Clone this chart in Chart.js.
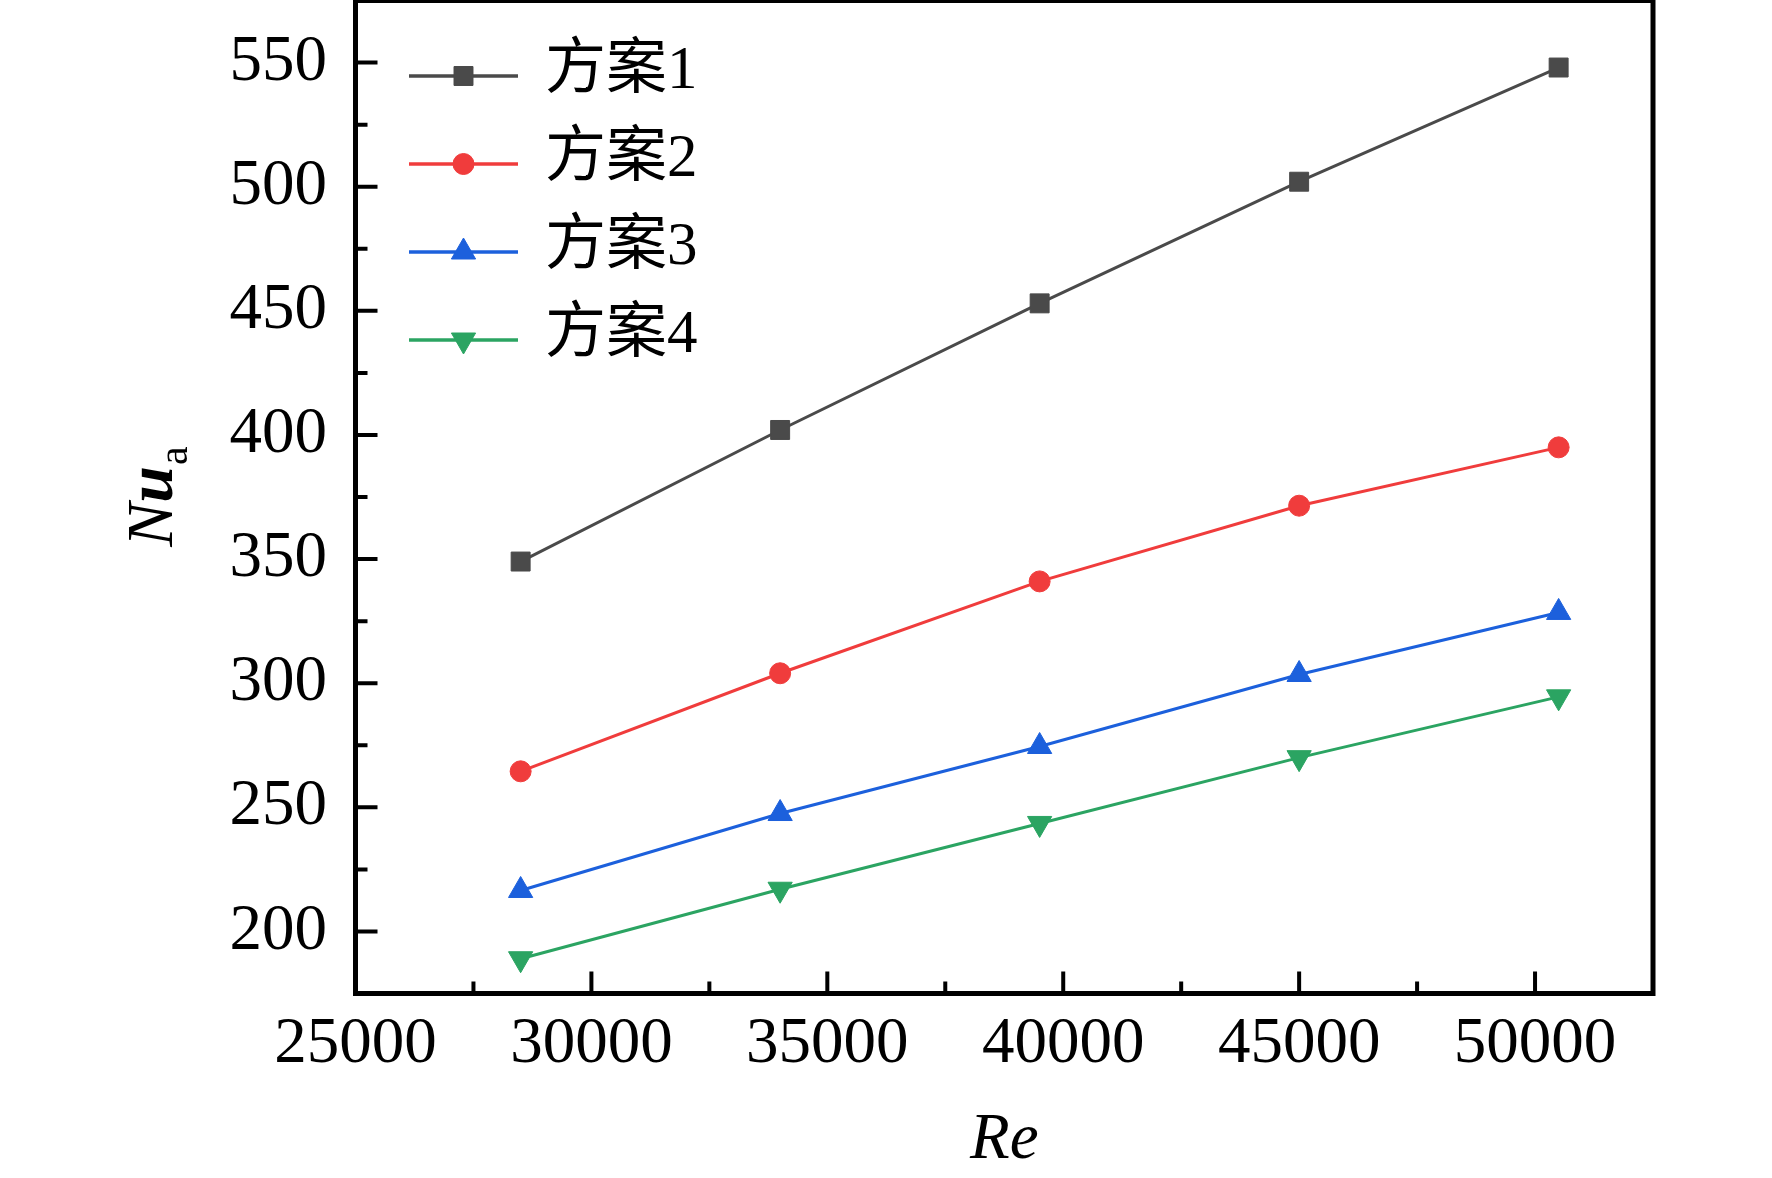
<!DOCTYPE html>
<html>
<head>
<meta charset="utf-8">
<script src="https://cdn.jsdelivr.net/npm/chart.js@4.4.1/dist/chart.umd.min.js"></script>
<style>
html,body{margin:0;padding:0;background:#fff;overflow:hidden}
#wrap{width:1772px;height:1178px;position:relative;background:#fff}
</style>
</head>
<body>
<div id="wrap"><canvas id="c" width="1772" height="1178"></canvas></div>
<script>
// ---- data ----
const reValues = [28500, 34000, 39500, 45000, 50500];
const seriesNames = ['方案1', '方案2', '方案3', '方案4'];
const nuScheme1 = [349, 402, 453, 502, 548];
const nuScheme2 = [264.5, 304, 341, 371.5, 395];
const nuScheme3 = [216.5, 247.5, 274.5, 303.5, 328.5];
const nuScheme4 = [189, 217, 243.5, 270, 294.5];
const xTickValues = [25000, 30000, 35000, 40000, 45000, 50000];
const xTickLabels = ['25000', '30000', '35000', '40000', '45000', '50000'];
const xMinorTickValues = [27500, 32500, 37500, 42500, 47500];
const yTickValues = [200, 250, 300, 350, 400, 450, 500, 550];
const yTickLabels = ['200', '250', '300', '350', '400', '450', '500', '550'];
const yMinorTickValues = [225, 275, 325, 375, 425, 475, 525];
const xAxisTitle = 'Re';
const yAxisTitleMain = ['N', 'u'];
const yAxisTitleSub = 'a';

const seriesValues = [nuScheme1, nuScheme2, nuScheme3, nuScheme4];
const seriesColors = ['#4a4a4a', '#f03c3c', '#1c60dc', '#2ba462'];
const seriesMarkers = ['rect', 'circle', 'triangle', 'triangle'];
const seriesMarkerRot = [0, 0, 0, 180];
const seriesMarkerRadius = [13.4, 10.5, 14, 14];

const SERIF = '"Liberation Serif", "Times New Roman", serif';

function drawMarker(ctx, style, x, y, r, rot, color) {
  ctx.save();
  ctx.fillStyle = color;
  ctx.strokeStyle = color;
  ctx.lineWidth = 1;
  ctx.beginPath();
  if (style === 'rect') {
    const s = Math.SQRT1_2 * r;
    ctx.rect(x - s, y - s, 2 * s, 2 * s);
  } else if (style === 'circle') {
    ctx.arc(x, y, r, 0, Math.PI * 2);
  } else {
    let rad = rot * Math.PI / 180;
    ctx.moveTo(x + Math.sin(rad) * r, y - Math.cos(rad) * r);
    rad += 2 * Math.PI / 3;
    ctx.lineTo(x + Math.sin(rad) * r, y - Math.cos(rad) * r);
    rad += 2 * Math.PI / 3;
    ctx.lineTo(x + Math.sin(rad) * r, y - Math.cos(rad) * r);
    ctx.closePath();
  }
  ctx.fill();
  ctx.stroke();
  ctx.restore();
}

const decorPlugin = {
  id: 'decor',
  afterDatasetsDraw(chart) {
    const ctx = chart.ctx;
    const a = chart.chartArea;
    const xs = chart.scales.x, ys = chart.scales.y;
    ctx.save();
    ctx.strokeStyle = '#000';
    ctx.lineWidth = 4;
    ctx.lineCap = 'butt';
    ctx.beginPath();
    yTickValues.forEach(v => { const p = ys.getPixelForValue(v); ctx.moveTo(a.left, p); ctx.lineTo(a.left + 22, p); });
    yMinorTickValues.forEach(v => { const p = ys.getPixelForValue(v); ctx.moveTo(a.left, p); ctx.lineTo(a.left + 12, p); });
    xTickValues.forEach(v => { const p = xs.getPixelForValue(v); ctx.moveTo(p, a.bottom); ctx.lineTo(p, a.bottom - 22); });
    xMinorTickValues.forEach(v => { const p = xs.getPixelForValue(v); ctx.moveTo(p, a.bottom); ctx.lineTo(p, a.bottom - 12); });
    ctx.stroke();
    ctx.lineWidth = 5;
    ctx.strokeRect(a.left, a.top, a.right - a.left, a.bottom - a.top);
    ctx.restore();
  },
  afterDraw(chart) {
    const ctx = chart.ctx;
    const a = chart.chartArea;
    ctx.save();
    ctx.fillStyle = '#000';
    ctx.font = 'italic 65px ' + SERIF;
    ctx.textAlign = 'center';
    ctx.textBaseline = 'alphabetic';
    ctx.fillText(xAxisTitle, (a.left + a.right) / 2, 1158);
    ctx.save();
    ctx.translate(172, (a.top + a.bottom) / 2);
    ctx.rotate(-Math.PI / 2);
    ctx.textAlign = 'left';
    const fN = 'italic 66px ' + SERIF, fU = 'italic bold 66px ' + SERIF, fA = '42px ' + SERIF;
    ctx.font = fN; const wN = ctx.measureText(yAxisTitleMain[0]).width;
    ctx.font = fU; const wU = ctx.measureText(yAxisTitleMain[1]).width;
    ctx.font = fA; const wA = ctx.measureText(yAxisTitleSub).width;
    let x0 = -(wN + wU + wA) / 2;
    ctx.font = fN; ctx.fillText(yAxisTitleMain[0], x0, 0); x0 += wN;
    ctx.font = fU; ctx.fillText(yAxisTitleMain[1], x0, 0); x0 += wU + 1;
    ctx.font = fA; ctx.fillText(yAxisTitleSub, x0, 15);
    ctx.restore();
    const rowY0 = 76, rowDy = 88;
    chart.data.datasets.forEach((ds, i) => {
      const y = rowY0 + i * rowDy;
      ctx.save();
      ctx.strokeStyle = ds.borderColor;
      ctx.lineWidth = 3.5;
      ctx.beginPath();
      ctx.moveTo(409, y); ctx.lineTo(518, y);
      ctx.stroke();
      ctx.restore();
      drawMarker(ctx, ds.pointStyle, 463.5, y, ds.pointRadius, ds.pointRotation || 0, ds.pointBackgroundColor);
      ctx.fillStyle = '#000';
      ctx.font = '61px "Liberation Serif", "Noto Sans CJK SC"';
      ctx.textAlign = 'left';
      ctx.textBaseline = 'middle';
      ctx.fillText(ds.label, 545, y - 4);
    });
    ctx.restore();
  }
};

const datasets = seriesValues.map((vals, i) => ({
  label: seriesNames[i],
  data: vals.map((v, j) => ({ x: reValues[j], y: v })),
  borderColor: seriesColors[i],
  backgroundColor: seriesColors[i],
  pointBackgroundColor: seriesColors[i],
  pointBorderColor: seriesColors[i],
  pointBorderWidth: 1,
  borderWidth: 3,
  pointStyle: seriesMarkers[i],
  pointRotation: seriesMarkerRot[i],
  pointRadius: seriesMarkerRadius[i],
  pointHoverRadius: seriesMarkerRadius[i],
  tension: 0,
  fill: false,
  clip: false
}));

new Chart(document.getElementById('c'), {
  type: 'line',
  data: { datasets },
  plugins: [decorPlugin],
  options: {
    responsive: false,
    devicePixelRatio: 1,
    animation: false,
    events: [],
    layout: { autoPadding: false, padding: { top: 0.5, right: 119, bottom: 0, left: 0 } },
    plugins: { legend: { display: false }, tooltip: { enabled: false }, title: { display: false } },
    scales: {
      x: {
        type: 'linear',
        min: 25000, max: 52500,
        afterBuildTicks: s => { s.ticks = xTickValues.map(v => ({ value: v })); },
        afterFit: s => { s.height = 1178 - 993.5; s.paddingLeft = 0; s.paddingRight = 0; },
        grid: { display: false, drawTicks: false },
        border: { display: false },
        ticks: {
          autoSkip: false, maxRotation: 0, minRotation: 0,
          padding: 12,
          color: '#000',
          font: { family: 'Liberation Serif', size: 65 },
          callback: (v) => { const k = xTickValues.indexOf(v); return k >= 0 ? xTickLabels[k] : ''; }
        },
        title: { display: false }
      },
      y: {
        type: 'linear',
        min: 175, max: 575,
        afterBuildTicks: s => { s.ticks = yTickValues.map(v => ({ value: v })); },
        afterFit: s => { s.width = 355.5; s.paddingTop = 0; s.paddingBottom = 0; },
        grid: { display: false, drawTicks: false },
        border: { display: false },
        ticks: {
          autoSkip: false,
          padding: 28.5,
          color: '#000',
          font: { family: 'Liberation Serif', size: 65 },
          callback: (v) => { const k = yTickValues.indexOf(v); return k >= 0 ? yTickLabels[k] : ''; }
        },
        title: { display: false }
      }
    }
  }
});
</script>
</body>
</html>
